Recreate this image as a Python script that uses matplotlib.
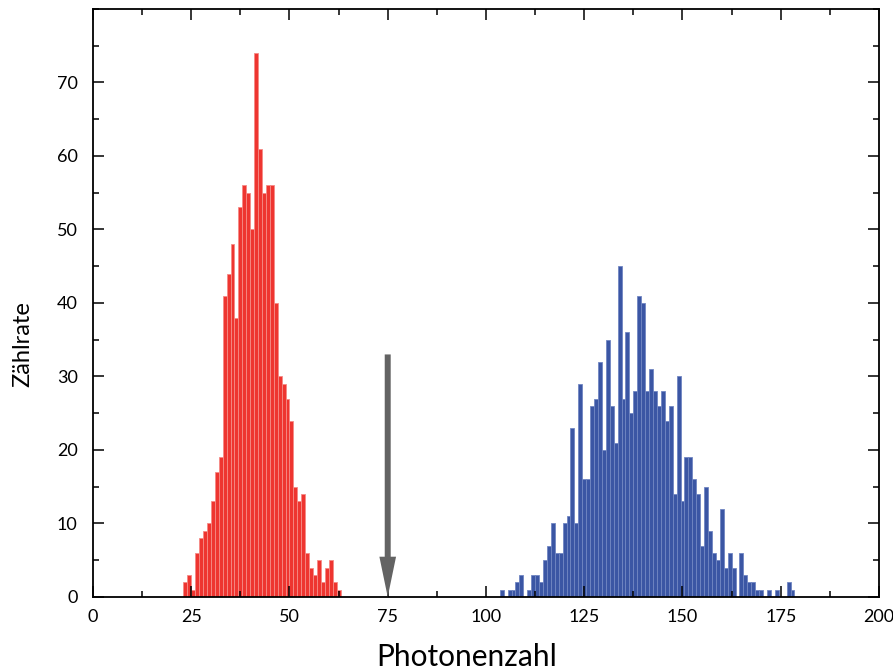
import numpy as np
import matplotlib
matplotlib.use('Agg')
import matplotlib.pyplot as plt
from matplotlib.ticker import MultipleLocator

plt.rcParams['font.family'] = ['Lato', 'DejaVu Sans']

# Red histogram: bins of width 1, left edges start at 23
red_start = 23
red_counts = [2, 3, 1, 6, 8, 9, 10, 13, 17, 19, 41, 44, 48, 38, 53, 56, 55, 50, 74, 61,
              55, 56, 56, 40, 30, 29, 27, 24, 15, 13, 14, 6, 4, 3, 5, 2, 4, 5, 2, 1]

# Blue histogram: bins of width 1, centered on 104..178
blue_start = 104
blue_counts = [1, 0, 1, 1, 2, 3, 0, 1, 3, 3, 2, 5, 7, 10, 6, 6, 10, 11, 23, 10,
               29, 16, 16, 26, 27, 32, 20, 35, 26, 21, 45, 27, 36, 25, 28, 41, 40, 28, 31, 28,
               26, 28, 24, 26, 14, 30, 13, 19, 19, 16, 14, 7, 15, 9, 6, 5, 12, 4, 6, 4,
               0, 6, 3, 2, 2, 1, 1, 0, 1, 0, 1, 0, 0, 2, 1]

# Threshold marker
threshold = 75
arrow_top = 33

x_ticks = [0, 25, 50, 75, 100, 125, 150, 175, 200]
y_ticks = [0, 10, 20, 30, 40, 50, 60, 70]

fig = plt.figure(figsize=(8.93, 6.71), dpi=100)
ax = fig.add_axes([0.1041, 0.1103, 0.8802, 0.8763])

red_x = red_start + np.arange(len(red_counts))
blue_x = blue_start + np.arange(len(blue_counts))

ax.bar(red_x, red_counts, width=1.0, align='edge', color='#EE3530',
       edgecolor='#F58A86', linewidth=0.6)
ax.bar(blue_x, blue_counts, width=1.0, align='center', color='#3B56A4',
       edgecolor='#7086C2', linewidth=0.6)

# Grey arrow pointing down at the threshold
ax.annotate('', xy=(threshold, 0), xytext=(threshold, arrow_top),
            arrowprops=dict(facecolor='#636363', edgecolor='none', width=4.3,
                            headwidth=12, headlength=29, shrink=0))

ax.set_xlim(0, 200)
ax.set_ylim(0, 80)
ax.set_xticks(x_ticks)
ax.set_yticks(y_ticks)
ax.xaxis.set_minor_locator(MultipleLocator(12.5))
ax.yaxis.set_minor_locator(MultipleLocator(5))

ax.tick_params(which='both', direction='in', top=True, right=True, width=1.1,
               labelsize=13)
ax.tick_params(which='major', length=8)
ax.tick_params(which='minor', length=4.5)
ax.tick_params(axis='x', pad=9)
ax.tick_params(axis='y', pad=11)

for s in ax.spines.values():
    s.set_linewidth(1.3)

ax.set_xlabel('Photonenzahl', fontsize=21.5)
ax.set_ylabel('Zählrate', fontsize=17)
ax.xaxis.set_label_coords(0.476, -0.078)
ax.yaxis.set_label_coords(-0.076, 0.43)

fig.savefig('out.png', dpi=100)
